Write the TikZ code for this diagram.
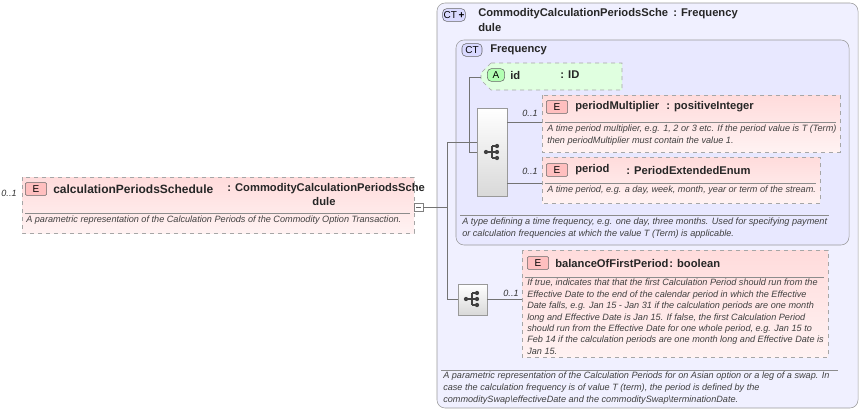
\documentclass[tikz,border=0pt]{standalone}
\usepackage{fontspec}
\setmainfont{Liberation Sans}
\begin{document}
\begin{tikzpicture}[x=0.75pt,y=-0.75pt,
  el/.style={draw=black!35,dashed,top color=red!14,bottom color=red!5},
  ct/.style={draw=black!40,rounded corners=6pt,fill=blue!6},
  badge/.style={draw=black!60,rounded corners=1pt,font=\fontsize{7.5}{8}\selectfont,inner sep=0.5pt,minimum height=9.5pt},
  tt/.style={font=\bfseries\fontsize{8.4}{10}\selectfont,anchor=west,inner sep=0pt,text=black!85},
  ds/.style={font=\itshape\fontsize{6.85}{9}\selectfont,anchor=north west,inner sep=0pt,align=left,text=black!75},
  mul/.style={font=\itshape\fontsize{6.8}{8}\selectfont,inner sep=0pt,text=black!80},
  sep/.style={draw=black!45},
  ln/.style={draw=black!55},
  dot/.style={circle,fill=black!75,inner sep=0pt,minimum size=3.2pt}]
\useasboundingbox (0,0) rectangle (862,411);
% left element
\node[mul] (m0) at (9,193) {0..1};
\path[el] (22,177) rectangle (414,233);
\node[badge,fill=red!25,minimum width=16pt] (b0) at (36,189) {E};
\node[tt,font=\bfseries\fontsize{9}{10}\selectfont] (t0) at (53,189) {calculationPeriodsSchedule};
\node[tt] (t0b) at (227,189) {: CommodityCalculationPeriodsSche};
\node[tt,anchor=center] (t0c) at (324,201) {dule};
\draw[sep] (25,213) -- (410,213);
\node[ds] (d0) at (26,216) {A parametric representation of the Calculation Periods of the Commodity Option Transaction.};
\draw[draw=black!50,fill=white] (414,203) rectangle (423,211);
\draw[black!60] (416,207) -- (421,207);
\coordinate (c0) at (423,207);
% outer CT
\path[ct] (437,3) rectangle (858,408);
\node[badge,fill=blue!15,minimum width=17pt,rounded corners=3pt] (b1) at (454,15) {CT\,\textbf{+}};
\node[tt] (t1) at (478,14) {CommodityCalculationPeriodsSche};
\node[tt] (t1b) at (673,14) {: Frequency};
\node[tt] (t1c) at (478,27) {dule};
% inner CT
\path[ct,fill=blue!9] (456,40) rectangle (849,245);
\node[badge,fill=blue!15,minimum width=15pt,rounded corners=3pt] (b2) at (472,50) {CT};
\node[tt] (t2) at (490,50) {Frequency};
% attribute id
\path[draw=black!35,dashed,fill=green!12] (491,63) -- (622,63) -- (622,90) -- (491,90) -- (481,80) -- (481,73) -- cycle;
\node[badge,fill=green!30,minimum width=13pt,rounded corners=3pt] (ba) at (496,75) {A};
\node[tt] (ta) at (510,75) {id};
\node[tt] (tb) at (560,75) {: ID};
% sequence 1
\shade[top color=white,bottom color=black!15,draw=black!40] (477,108) rectangle (507,196);
% pm
\path[el] (542,95) rectangle (840,152);
\node[badge,fill=red!25,minimum width=16pt] (b3) at (557,107) {E};
\node[tt] (t3) at (575,107) {periodMultiplier};
\node[tt] (t3b) at (666,107) {: positiveInteger};
\draw[sep] (545,122) -- (836,122);
\node[ds] (d3) at (547,125) {A time period multiplier, e.g. 1, 2 or 3 etc. If the period value is T (Term)\\then periodMultiplier must contain the value 1.};
\node[mul] (m3) at (530,113) {0..1};
% period
\path[el] (542,157) rectangle (820,203);
\node[badge,fill=red!25,minimum width=16pt] (b4) at (557,170) {E};
\node[tt] (t4) at (575,170) {period};
\node[tt] (t4b) at (626,170) {: PeriodExtendedEnum};
\draw[sep] (545,183) -- (816,183);
\node[ds] (d4) at (547,186) {A time period, e.g. a day, week, month, year or term of the stream.};
\node[mul] (m4) at (530,171) {0..1};
\draw[sep] (460,215) -- (829,215);
\node[ds] (d2) at (462,218) {A type defining a time frequency, e.g. one day, three months. Used for specifying payment\\or calculation frequencies at which the value T (Term) is applicable.};
% sequence 2
\shade[top color=white,bottom color=black!15,draw=black!40] (458,284) rectangle (487,315);
% balance
\path[el] (522,250) rectangle (828,357);
\node[badge,fill=red!25,minimum width=16pt] (b5) at (538,263) {E};
\node[tt] (t5) at (555,263) {balanceOfFirstPeriod};
\node[tt] (t5b) at (669,263) {: boolean};
\draw[sep] (525,277) -- (824,277);
\node[ds,font=\itshape\fontsize{6.85}{8.55}\selectfont] (d5) at (527,279) {If true, indicates that that the first Calculation Period should run from the\\Effective Date to the end of the calendar period in which the Effective\\Date falls, e.g. Jan 15 - Jan 31 if the calculation periods are one month\\long and Effective Date is Jan 15. If false, the first Calculation Period\\should run from the Effective Date for one whole period, e.g. Jan 15 to\\Feb 14 if the calculation periods are one month long and Effective Date is\\Jan 15.};
\node[mul] (m5) at (511,293) {0..1};
\draw[sep] (441,370) -- (838,370);
\node[ds] (d1) at (443,372) {A parametric representation of the Calculation Periods for on Asian option or a leg of a swap. In\\case the calculation frequency is of value T (term), the period is defined by the\\commoditySwap\textbackslash effectiveDate and the commoditySwap\textbackslash terminationDate.};
% sequence icons
\foreach \cx/\cy in {492/152,472/299}{
  \draw[black!75,line width=0.8pt] (\cx-6,\cy) -- (\cx,\cy) (\cx,\cy-6) -- (\cx,\cy+6) (\cx,\cy-6) -- (\cx+4,\cy-6) (\cx,\cy) -- (\cx+4,\cy) (\cx,\cy+6) -- (\cx+4,\cy+6);
  \node[dot] at (\cx-6,\cy) {};
  \node[dot] at (\cx+5,\cy-6) {};
  \node[dot] at (\cx+5,\cy) {};
  \node[dot] at (\cx+5,\cy+6) {};
}
% connectors
\coordinate (j1) at (447,207);
\draw[ln] (c0) -- (j1) (447,142) -- (447,299) -- (458,299) (447,142) -- (477,142);
\draw[ln] (469,77) -- (481,77) (469,77) -- (469,152) -- (477,152);
\draw[ln] (507,122) -- (542,122) (507,183) -- (542,183);
\draw[ln] (487,299) -- (522,299);
\end{tikzpicture}
\end{document}
